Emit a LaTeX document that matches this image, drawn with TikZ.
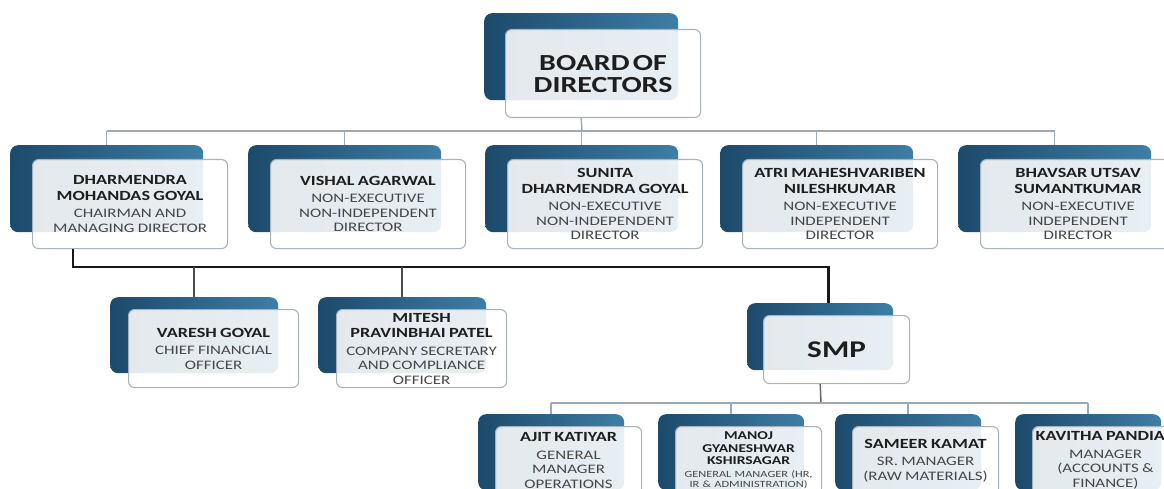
\documentclass[tikz,border=0pt]{standalone}
\usepackage{fontspec}
\setmainfont{Carlito}[FakeStretch=1.3]
\usepackage{tikz}
\usetikzlibrary{positioning}

\definecolor{boxdark}{HTML}{1C4A6B}
\definecolor{boxlight}{HTML}{3E7EA6}
\definecolor{edgegray}{HTML}{A8B3BB}
\definecolor{linkgray}{HTML}{9AABB8}
\definecolor{namegray}{HTML}{1E1E1E}
\definecolor{rolegray}{HTML}{464646}

\newcommand{\nmfont}{\bfseries\fontsize{14}{15.5}\selectfont\color{namegray}}
\newcommand{\rolefont}{\fontsize{13}{14.5}\selectfont\color{rolegray}}

\tikzset{
    back/.style={rounded corners=8pt, left color=boxdark, right color=boxlight, anchor=north west, inner sep=0pt},
    front/.style={rounded corners=6pt, draw=edgegray, line width=1.1pt, fill=white, fill opacity=0.88, text opacity=1, inner sep=0pt, align=center, execute at begin node={\setlength{\parindent}{0pt}\hyphenpenalty=10000\exhyphenpenalty=10000}},
    thinlink/.style={draw=linkgray, line width=1.5pt},
    smplink/.style={draw=black!60, line width=1.5pt},
    midlink/.style={draw=black!70, line width=2pt},
    boldlink/.style={draw=black!90, line width=2.8pt},
}

\begin{document}
\begin{tikzpicture}[x=1pt, y=-1pt]
    \useasboundingbox (0,0) rectangle (1164,489);
    \clip (0,0) rectangle (1164,489);

    \node[back, minimum width=194pt, minimum height=87pt] (b-board) at (484,13) {};
    \node[front, minimum width=195pt, minimum height=88pt, text width=190pt, below right=16pt and 21pt of b-board.north west] (board) {{\bfseries\fontsize{23}{22}\selectfont\color{namegray}BOARD OF\\DIRECTORS\par}};

    \foreach[count=\i] \xi/\nm/\role in {
        10/{DHARMENDRA\\MOHANDAS GOYAL}/{CHAIRMAN AND\\MANAGING DIRECTOR},
        248/{VISHAL AGARWAL}/{NON-EXECUTIVE\\NON-INDEPENDENT\\DIRECTOR},
        485/{SUNITA\\DHARMENDRA GOYAL}/{NON-EXECUTIVE\\NON-INDEPENDENT\\DIRECTOR},
        720/{ATRI MAHESHVARIBEN\\NILESHKUMAR}/{NON-EXECUTIVE\\INDEPENDENT\\DIRECTOR},
        958/{BHAVSAR UTSAV\\SUMANTKUMAR}/{NON-EXECUTIVE\\INDEPENDENT\\DIRECTOR}} {
        \node[back, minimum width=193pt, minimum height=87pt] (b-dir-\i) at (\xi,145) {};
        \node[front, minimum width=195pt, minimum height=89pt, text width=192pt, below right=14pt and 22pt of b-dir-\i.north west] (dir-\i) {{\nmfont\nm\par}\vspace{3pt}{\rolefont\role\par}};
    }

    \foreach[count=\i] \xi/\nm/\role in {
        110/{VARESH GOYAL}/{CHIEF FINANCIAL\\OFFICER},
        318/{MITESH\\PRAVINBHAI PATEL}/{COMPANY SECRETARY\\AND COMPLIANCE\\OFFICER}} {
        \node[back, minimum width=168pt, minimum height=76pt] (b-off-\i) at (\xi,297) {};
        \node[front, minimum width=170pt, minimum height=78pt, text width=166pt, below right=12pt and 18pt of b-off-\i.north west] (off-\i) {{\nmfont\nm\par}\vspace{3pt}{\rolefont\role\par}};
    }

    \node[back, minimum width=146pt, minimum height=67pt] (b-smp) at (747,303) {};
    \node[front, minimum width=146pt, minimum height=68pt, text width=140pt, below right=12pt and 16pt of b-smp.north west] (smp) {{\bfseries\fontsize{24}{24}\selectfont\color{namegray}SMP\par}};

    \foreach[count=\i] \xi/\nm/\role in {
        478/{AJIT KATIYAR}/{GENERAL\\MANAGER\\OPERATIONS},
        658/{\fontsize{12}{12.5}\selectfont MANOJ\\GYANESHWAR\\KSHIRSAGAR}/{\fontsize{9.5}{10}\selectfont GENERAL MANAGER (HR,\\IR \& ADMINISTRATION)},
        835/{SAMEER KAMAT}/{SR. MANAGER\\(RAW MATERIALS)},
        1015/{\mbox{KAVITHA PANDIAN}}/{MANAGER\\(ACCOUNTS \&\\FINANCE)}} {
        \node[back, minimum width=146pt, minimum height=76pt] (b-mgr-\i) at (\xi,414) {};
        \node[front, minimum width=146pt, minimum height=68pt, text width=140pt, below right=12pt and 17pt of b-mgr-\i.north west] (mgr-\i) {{\nmfont\nm\par}\vspace{3pt}{\rolefont\role\par}};
    }

    \coordinate (bus-dir) at (582,131);
    \draw[thinlink] (b-board |- board.south) -- (bus-dir);
    \draw[thinlink] (bus-dir -| b-dir-1) -- (bus-dir -| b-dir-5);
    \foreach \i in {1,...,5} \draw[thinlink] (bus-dir -| b-dir-\i) -- (b-dir-\i.north);

    \coordinate (bus-off) at (73,267);
    \draw[boldlink] (dir-1.south -| bus-off) -- (bus-off) -| ([xshift=8pt]b-smp.north);
    \foreach \i in {1,2} \draw[midlink] (bus-off -| b-off-\i) -- (b-off-\i.north);

    \coordinate (bus-mgr) at (821,403);
    \draw[smplink] (b-smp |- smp.south) -- (bus-mgr);
    \draw[thinlink] (bus-mgr -| b-mgr-1) -- (bus-mgr -| b-mgr-4);
    \foreach \i in {1,...,4} \draw[thinlink] (bus-mgr -| b-mgr-\i) -- (b-mgr-\i.north);
\end{tikzpicture}
\end{document}
